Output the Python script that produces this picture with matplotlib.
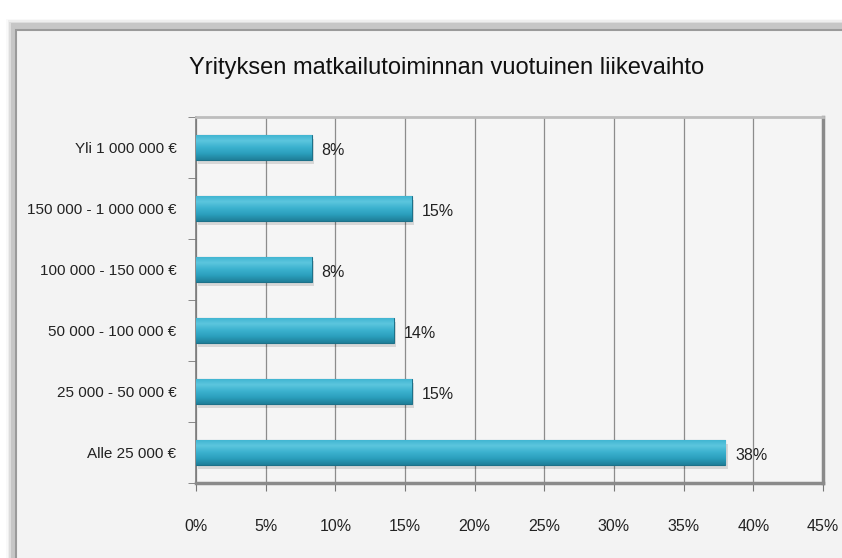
import matplotlib
matplotlib.use("Agg")
import matplotlib.pyplot as plt
import numpy as np
from matplotlib.patches import Rectangle
from matplotlib.colors import LinearSegmentedColormap

categories = ["Alle 25 000 €", "25 000 - 50 000 €", "50 000 - 100 000 €",
              "100 000 - 150 000 €", "150 000 - 1 000 000 €", "Yli 1 000 000 €"]
values = [38.0, 15.5, 14.2, 8.3, 15.5, 8.3]
labels = ["38%", "15%", "14%", "8%", "15%", "8%"]
xticks = [0, 5, 10, 15, 20, 25, 30, 35, 40, 45]
title = "Yrityksen matkailutoiminnan vuotuinen liikevaihto"

plt.rcParams['font.family'] = ['Liberation Sans', 'DejaVu Sans']

fig = plt.figure(figsize=(8.42, 5.58), dpi=100)
fig.patch.set_facecolor('white')

# outer chart frame with shadow
for i, a in enumerate([0.10, 0.18, 0.28, 0.40]):
    off = (4 - i) * 1.5
    fig.patches.append(Rectangle(((12 - off) / 842, -0.1), 2.0, (558 - 25 + off) / 558 + 0.1,
                                 transform=fig.transFigure, facecolor='#000000', alpha=a * 0.25,
                                 edgecolor='none', zorder=0))
fig.patches.append(Rectangle((16 / 842, -0.1), 2.0, (558 - 30) / 558 + 0.1,
                             transform=fig.transFigure, facecolor='#f3f3f3',
                             edgecolor='#9a9a9a', linewidth=1.5, zorder=1))

ax = fig.add_axes([196 / 842, 1 - 483 / 558, (823 - 196) / 842, (483 - 117) / 558])
ax.set_facecolor('#f5f5f5')
ax.set_zorder(2)

y = np.arange(len(categories))
bars = ax.barh(y, values, height=0.41, color='#36abc8', edgecolor='#1d7189',
               linewidth=0.8, zorder=3)

cmap = LinearSegmentedColormap.from_list('bar', ['#1f7f99', '#2b9fbd', '#3cb2cf', '#5cc6de', '#3db3d0'])
grad = np.linspace(0, 1, 64).reshape(-1, 1)
for b in bars:
    x0, y0 = b.get_x(), b.get_y()
    w, h = b.get_width(), b.get_height()
    im = ax.imshow(grad, extent=[x0, x0 + w, y0, y0 + h], origin='lower',
                   cmap=cmap, aspect='auto', zorder=3.5)
    im.set_clip_path(b)
    ax.add_patch(Rectangle((x0 + 0.15, y0 - 0.06), w, h, facecolor='#000000',
                           alpha=0.12, edgecolor='none', zorder=2.5))

for yi, v, lab in zip(y, values, labels):
    ax.text(v + 0.7, yi - 0.05, lab, va='center', ha='left', fontsize=11.5, color='#222222', zorder=4)

ax.set_xlim(0, 45)
ax.set_ylim(-0.5, len(categories) - 0.5)
ax.set_xticks(xticks)
ax.set_xticklabels([f"{t}%" for t in xticks], fontsize=11.5, color='#222222')
ax.set_yticks(y)
ax.set_yticklabels(categories, fontsize=11, color='#222222')
ax.set_yticks(np.arange(-0.5, len(categories), 1), minor=True)
ax.tick_params(axis='y', which='major', length=0, pad=14)
ax.tick_params(axis='y', which='minor', length=6, direction='out', color='#777777')
ax.tick_params(axis='x', which='major', length=6, direction='out', color='#777777', pad=20)
ax.xaxis.grid(True, color='#8c8c8c', linewidth=0.9, zorder=1)
ax.set_axisbelow(True)

ax.spines['left'].set_color('#7a7a7a')
ax.spines['left'].set_linewidth(1.2)
ax.spines['top'].set_color('#bdbdbd')
ax.spines['top'].set_linewidth(2.0)
ax.spines['right'].set_color('#8a8a8a')
ax.spines['right'].set_linewidth(2.5)
ax.spines['bottom'].set_color('#8a8a8a')
ax.spines['bottom'].set_linewidth(2.5)

fig.text(447 / 842, 1 - 68 / 558, title, ha='center', va='center', fontsize=17, color='#111111')

fig.savefig('out.png', dpi=100, facecolor=fig.get_facecolor())
